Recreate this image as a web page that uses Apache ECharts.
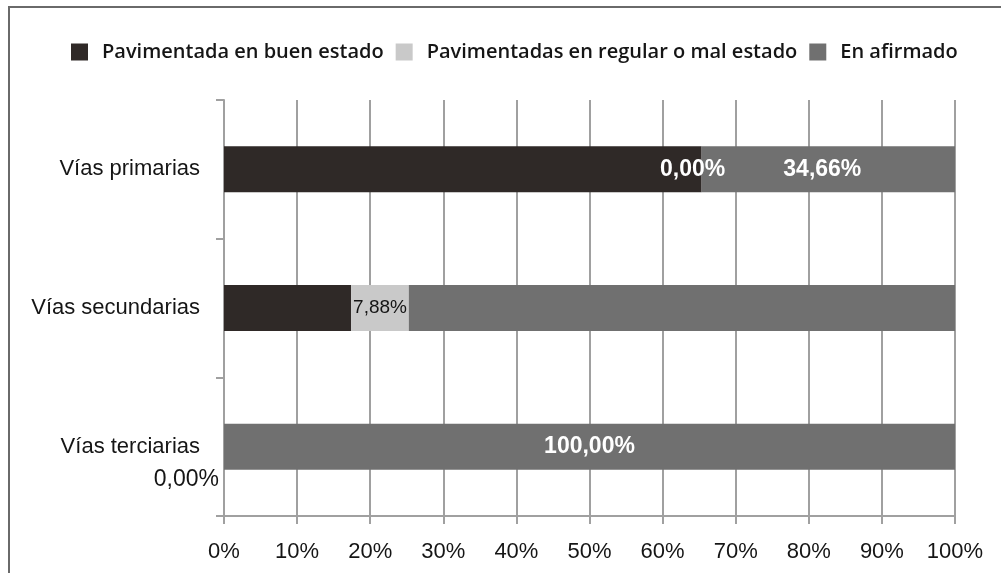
<!DOCTYPE html>
<html>
<head>
<meta charset="utf-8">
<script src="https://cdn.jsdelivr.net/npm/echarts@6/dist/echarts.min.js"></script>
<style>
html,body{margin:0;padding:0;background:#fff;overflow:hidden;}
#frame{position:absolute;left:8px;top:6px;width:1200px;height:800px;border-top:2px solid #6a6a6a;border-left:2px solid #6a6a6a;box-sizing:border-box;}
#chart{position:absolute;left:0;top:0;width:1001px;height:573px;}
</style>
</head>
<body>
<div id="frame"></div>
<div id="chart"></div>
<script>
const categories = ['Vías primarias', 'Vías secundarias', 'Vías terciarias'];
const seriesNames = ['Pavimentada en buen estado', 'Pavimentadas en regular o mal estado', 'En afirmado'];
const buenEstado = [65.34, 17.4, 0];
const regularMal = [0, 7.88, 0];
const afirmado = [34.66, 74.72, 100];
const xTicks = [0, 10, 20, 30, 40, 50, 60, 70, 80, 90, 100];

const colors = ['#2f2927', '#c9c9c9', '#707070'];
const fmt = v => v.toFixed(2).replace('.', ',') + '%';

const chart = echarts.init(document.getElementById('chart'), null, {renderer: 'canvas'});

const boldWhite = {show: true, position: 'inside', color: '#ffffff', fontFamily: 'Liberation Sans, Arial, sans-serif', fontWeight: 'bold', fontSize: 23};

function items(values, labelCfg) {
  return values.map((v, i) => {
    const it = {value: v};
    if (labelCfg[i]) it.label = Object.assign({formatter: p => fmt(p.value)}, labelCfg[i]);
    else it.label = {show: false};
    return it;
  });
}

const option = {
  animation: false,
  backgroundColor: 'transparent',
  color: colors,
  legend: {
    data: seriesNames,
    left: 66,
    top: 37,
    icon: 'rect',
    itemWidth: 17,
    itemHeight: 17,
    itemGap: 12,
    textStyle: {fontFamily: 'Open Sans, sans-serif', fontWeight: 600, fontSize: 20, color: '#151515', padding: [0, 0, 0, 9]}
  },
  grid: {left: 224, right: 46, top: 100, bottom: 57, containLabel: false},
  xAxis: {
    type: 'value',
    min: xTicks[0],
    max: xTicks[xTicks.length - 1],
    interval: 10,
    axisLine: {show: true, lineStyle: {color: '#a0a0a0', width: 2}},
    axisTick: {show: true, length: 8, lineStyle: {color: '#a0a0a0', width: 2}},
    splitLine: {show: true, lineStyle: {color: '#a0a0a0', width: 2}},
    axisLabel: {formatter: '{value}%', margin: 25, color: '#151515', fontFamily: 'Liberation Sans, Arial, sans-serif', fontSize: 22}
  },
  yAxis: {
    type: 'category',
    data: categories,
    inverse: true,
    axisLine: {show: true, lineStyle: {color: '#a0a0a0', width: 2}},
    axisTick: {show: true, length: 8, lineStyle: {color: '#a0a0a0', width: 2}},
    axisLabel: {margin: 24, color: '#151515', fontFamily: 'Liberation Sans, Arial, sans-serif', fontSize: 22}
  },
  series: [
    {
      name: seriesNames[0], type: 'bar', stack: 'total', barWidth: 46,
      itemStyle: {color: colors[0]},
      data: items(buenEstado, [null, null, {show: true, position: 'left', distance: 5, offset: [0, 33], color: '#151515', fontFamily: 'Liberation Sans, Arial, sans-serif', fontSize: 23}])
    },
    {
      name: seriesNames[1], type: 'bar', stack: 'total', barWidth: 46,
      itemStyle: {color: colors[1]},
      data: items(regularMal, [Object.assign({}, boldWhite, {offset: [-9, 0]}), {show: true, position: 'inside', color: '#151515', fontFamily: 'Liberation Sans, Arial, sans-serif', fontSize: 19}, null])
    },
    {
      name: seriesNames[2], type: 'bar', stack: 'total', barWidth: 46,
      itemStyle: {color: colors[2]},
      data: items(afirmado, [Object.assign({}, boldWhite, {offset: [-6, 0]}), null, boldWhite])
    }
  ]
};
chart.setOption(option);
</script>
</body>
</html>
